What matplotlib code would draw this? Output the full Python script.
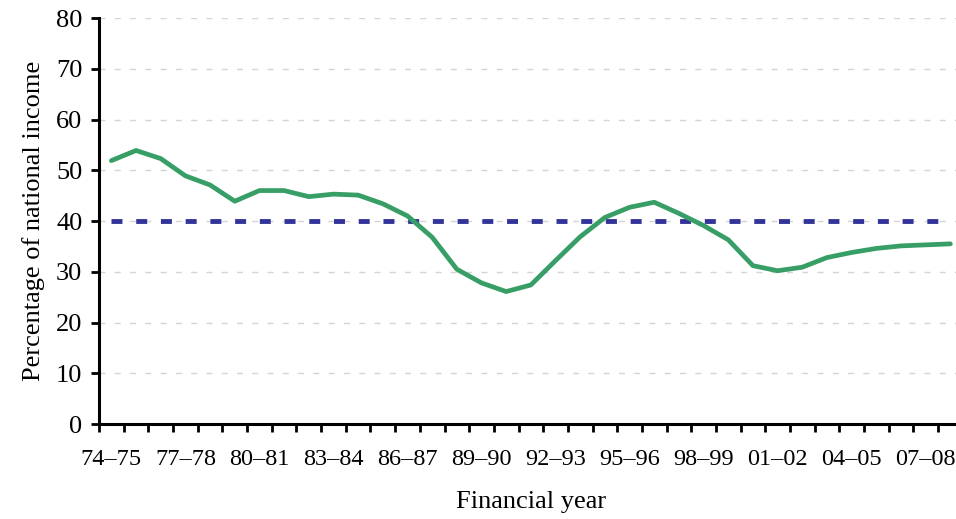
import matplotlib.pyplot as plt
from matplotlib.ticker import FixedLocator

plt.rcParams['font.family'] = ['Liberation Serif', 'DejaVu Serif']
plt.rcParams['lines.scale_dashes'] = False

# Financial years 1974-75 to 2008-09
years = ['74–75', '75–76', '76–77', '77–78', '78–79', '79–80', '80–81',
         '81–82', '82–83', '83–84', '84–85', '85–86', '86–87', '87–88',
         '88–89', '89–90', '90–91', '91–92', '92–93', '93–94', '94–95',
         '95–96', '96–97', '97–98', '98–99', '99–00', '00–01', '01–02',
         '02–03', '03–04', '04–05', '05–06', '06–07', '07–08', '08–09']

# Share of national income (%)
share = [51.9, 53.9, 52.3, 48.9, 47.1, 43.9, 46.0, 46.0, 44.8, 45.3,
         45.1, 43.4, 41.0, 36.8, 30.5, 27.8, 26.1, 27.4, 32.2, 36.9,
         40.7, 42.7, 43.7, 41.5, 39.1, 36.3, 31.2, 30.2, 30.9, 32.8,
         33.8, 34.6, 35.1, 35.3, 35.5]

benchmark = [40] * len(years)

yticks = [0, 10, 20, 30, 40, 50, 60, 70, 80]

fig = plt.figure(figsize=(9.56, 5.19), dpi=100)
ax = fig.add_axes([0.1036, 0.183, 0.9034, 0.7823])

x = list(range(len(years)))

# gridlines
for v in yticks[1:]:
    ax.axhline(v, color='#d4d4d4', lw=1.0, dashes=(4.3, 6.7), zorder=1)

ax.plot(x, benchmark, color='#333399', lw=3.5, dashes=(7.9, 9.9),
        dash_capstyle='butt', zorder=2)
ax.plot(x, share, color='#379e66', lw=3.4, solid_joinstyle='round',
        solid_capstyle='round', zorder=3)

ax.set_xlim(-0.5, len(years) - 0.5)
ax.set_ylim(0, 80)

ax.set_xticks(x[::3])
ax.set_xticklabels(years[::3])
ax.xaxis.set_minor_locator(FixedLocator([i - 0.5 for i in range(len(years) + 1)]))
ax.tick_params(axis='x', which='major', length=0, pad=18, labelsize=17.5)
ax.tick_params(axis='x', which='minor', length=6, width=2, direction='out')

ax.set_yticks(yticks)
ax.tick_params(axis='y', length=6, width=2, direction='out', pad=6, labelsize=19)

for s in ['top', 'right']:
    ax.spines[s].set_visible(False)
for s in ['left', 'bottom']:
    ax.spines[s].set_linewidth(2.2)

ax.set_ylabel('Percentage of national income', fontsize=19, labelpad=8)
ax.set_xlabel('Financial year', fontsize=19, labelpad=15)

fig.savefig('out.png', dpi=100)
